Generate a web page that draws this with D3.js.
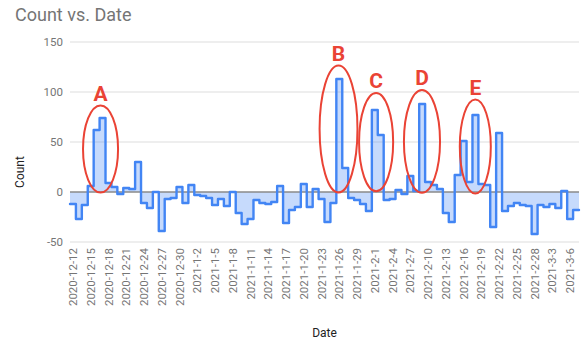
<!DOCTYPE html>
<html>
<head>
<meta charset="utf-8">
<script src="https://cdn.jsdelivr.net/npm/d3@7"></script>
<style>
  html, body { margin: 0; padding: 0; background: #fff; }
  svg { display: block; font-family: Roboto, "Noto Sans", Arial, sans-serif; }
</style>
</head>
<body>
<svg id="chart" width="582" height="342"></svg>
<script>
// Daily counts, 2020-12-12 through 2021-03-07
const categories = [
  "2020-12-12","2020-12-13","2020-12-14","2020-12-15","2020-12-16","2020-12-17","2020-12-18",
  "2020-12-19","2020-12-20","2020-12-21","2020-12-22","2020-12-23","2020-12-24","2020-12-25",
  "2020-12-26","2020-12-27","2020-12-28","2020-12-29","2020-12-30","2020-12-31",
  "2021-1-1","2021-1-2","2021-1-3","2021-1-4","2021-1-5","2021-1-6","2021-1-7","2021-1-8",
  "2021-1-9","2021-1-10","2021-1-11","2021-1-12","2021-1-13","2021-1-14","2021-1-15","2021-1-16",
  "2021-1-17","2021-1-18","2021-1-19","2021-1-20","2021-1-21","2021-1-22","2021-1-23","2021-1-24",
  "2021-1-25","2021-1-26","2021-1-27","2021-1-28","2021-1-29","2021-1-30","2021-1-31",
  "2021-2-1","2021-2-2","2021-2-3","2021-2-4","2021-2-5","2021-2-6","2021-2-7","2021-2-8",
  "2021-2-9","2021-2-10","2021-2-11","2021-2-12","2021-2-13","2021-2-14","2021-2-15","2021-2-16",
  "2021-2-17","2021-2-18","2021-2-19","2021-2-20","2021-2-21","2021-2-22","2021-2-23","2021-2-24",
  "2021-2-25","2021-2-26","2021-2-27","2021-2-28",
  "2021-3-1","2021-3-2","2021-3-3","2021-3-4","2021-3-5","2021-3-6","2021-3-7"
];

const counts = [
  -12, -27, -13, 6, 62, 74, 9,
  5, -2, 4, 3, 30, -11, -16,
  0, -39, -7, -6, 5, -11,
  7, -3, -4, -6, -13, -7, -14, 0,
  -21, -32, -27, -8, -11, -12, -10, 6,
  -31, -18, -15, 8, -15, 3, -7, -30,
  -11, 113, 24, -6, -8, -12, -19,
  82, 57, -8, -7, 2, -2, 16, 1,
  88, 10, 7, 3, -21, -30, 17, 51,
  10, 77, 8, 7, -35, 59, -19, -14,
  -11, -13, -14, -42,
  -13, -15, -12, -16, 1, -27, -18
];

const tickLabels = [
  "2020-12-12","2020-12-15","2020-12-18","2020-12-21","2020-12-24","2020-12-27","2020-12-30",
  "2021-1-2","2021-1-5","2021-1-8","2021-1-11","2021-1-14","2021-1-17","2021-1-20","2021-1-23",
  "2021-1-26","2021-1-29","2021-2-1","2021-2-4","2021-2-7","2021-2-10","2021-2-13","2021-2-16",
  "2021-2-19","2021-2-22","2021-2-25","2021-2-28","2021-3-3","2021-3-6"
];

const yTicks = [-50, 0, 50, 100, 150];

// Highlighted spikes: centre (in day index), half-width (days), vertical extent (counts)
const annLabels  = ["A", "B", "C", "D", "E"];
const annCenter  = [5.16, 45.37, 51.72, 59.47, 68.48];
const annHalf    = [2.96, 3.2, 2.88, 3.05, 2.62];
const annTop     = [86.5, 126.5, 99, 102, 92.5];
const annBottom  = [-0.5, -0.5, 0.8, -0.8, -1.5];

const svg = d3.select("#chart");
const plot = { left: 70, right: 579, top: 42, bottom: 242 };

const x = d3.scaleBand().domain(categories).range([plot.left, plot.right]).padding(0);
const dayX = d3.scaleLinear().domain([0, categories.length]).range([plot.left, plot.right]);
const y = d3.scaleLinear().domain([-50, 150]).range([plot.bottom, plot.top]);

// Title
svg.append("text")
  .attr("x", 15).attr("y", 20.5)
  .attr("font-size", 18).attr("fill", "#757575")
  .text("Count vs. Date");

// Gridlines
svg.append("g").selectAll("line")
  .data(yTicks.filter(t => t !== 0))
  .join("line")
  .attr("x1", plot.left).attr("x2", plot.right)
  .attr("y1", d => y(d)).attr("y2", d => y(d))
  .attr("stroke", "#dddddd").attr("stroke-width", 1);

// Y tick labels
svg.append("g").selectAll("text")
  .data(yTicks)
  .join("text")
  .attr("x", 63).attr("y", d => y(d)).attr("dy", "0.35em")
  .attr("text-anchor", "end").attr("font-size", 11.5).attr("fill", "#757575")
  .text(d => d);

// Stepped area + line
const pts = counts.map((v, i) => [x(categories[i]), v]);
pts.push([plot.right, counts[counts.length - 1]]);

const area = d3.area()
  .x(d => d[0]).y0(y(0)).y1(d => y(d[1]))
  .curve(d3.curveStepAfter);
const line = d3.line()
  .x(d => d[0]).y(d => y(d[1]))
  .curve(d3.curveStepAfter);

svg.append("path").datum(pts)
  .attr("d", area)
  .attr("fill", "#4285f4").attr("fill-opacity", 0.3);

// Baseline
svg.append("line")
  .attr("x1", plot.left).attr("x2", plot.right)
  .attr("y1", y(0)).attr("y2", y(0))
  .attr("stroke", "#8a8a8a").attr("stroke-width", 1.5);

svg.append("path").datum(pts)
  .attr("d", line)
  .attr("fill", "none").attr("stroke", "#4285f4")
  .attr("stroke-width", 2.4).attr("stroke-linejoin", "round").attr("stroke-linecap", "round");

// X tick labels (rotated)
svg.append("g").selectAll("text")
  .data(tickLabels)
  .join("text")
  .attr("transform", d => `translate(${x(d) + x.bandwidth() / 2},248) rotate(-90)`)
  .attr("dy", "0.35em").attr("text-anchor", "end")
  .attr("font-size", 11.5).attr("fill", "#757575")
  .text(d => d);

// Axis titles
svg.append("text")
  .attr("transform", `translate(24,172) rotate(-90)`)
  .attr("text-anchor", "middle").attr("font-size", 12).attr("fill", "#222")
  .text("Count");
svg.append("text")
  .attr("x", (plot.left + plot.right) / 2).attr("y", 337)
  .attr("text-anchor", "middle").attr("font-size", 12).attr("fill", "#222")
  .text("Date");

// Annotations
const red = "#ea4335";
const ann = svg.append("g");
annLabels.forEach((lab, i) => {
  const cx = dayX(annCenter[i]);
  const rx = dayX(annCenter[i] + annHalf[i]) - cx;
  const yt = y(annTop[i]), yb = y(annBottom[i]);
  ann.append("ellipse")
    .attr("cx", cx).attr("cy", (yt + yb) / 2)
    .attr("rx", rx).attr("ry", (yb - yt) / 2)
    .attr("fill", "none").attr("stroke", red).attr("stroke-width", 2);
  ann.append("text")
    .attr("x", cx).attr("y", yt - 5)
    .attr("text-anchor", "middle").attr("font-size", 21).attr("font-weight", "bold")
    .attr("fill", red)
    .text(lab);
});
</script>
</body>
</html>
